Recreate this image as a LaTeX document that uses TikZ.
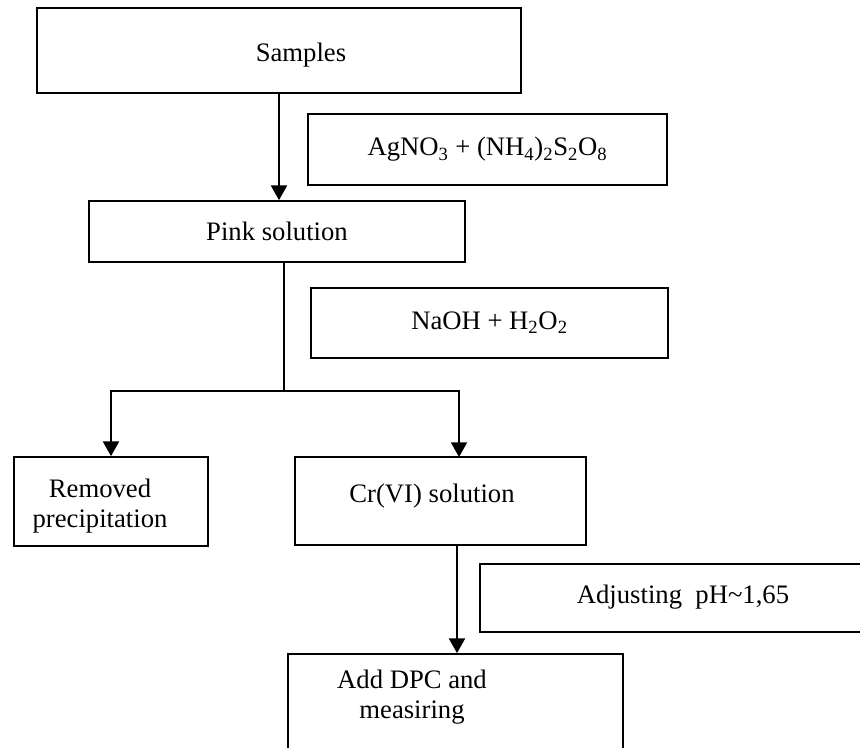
\documentclass[tikz,border=0pt]{standalone}
\usepackage{fontspec}
\setmainfont{Liberation Serif}
\usetikzlibrary{arrows.meta,positioning}
\tikzset{
    block/.style = {draw, rectangle, line width=1.3pt, inner sep=0pt},
    txt/.style = {align=center, inner sep=0pt},
    arrow/.style = {draw, line width=1.3pt, -{Triangle[width=12pt,length=11pt]}},
    wire/.style = {draw, line width=1.3pt}
}
\begin{document}
\begin{tikzpicture}[x=0.75pt, y=-0.75pt, font=\fontsize{20}{22.5}\selectfont]
        \useasboundingbox (0,0) rectangle (860,747);
        \clip (0,0) rectangle (860,747);
        \node [block, minimum width=363pt, minimum height=63.75pt] (samples) at (279,50.5) {};
        \node [txt] (samplestxt) at (301,55) {Samples};
        \node [block, minimum width=269.25pt, minimum height=53.25pt] (reag) at (487.5,149.5)
            {AgNO\textsubscript{3} + (NH\textsubscript{4})\textsubscript{2}S\textsubscript{2}O\textsubscript{8}};
        \node [block, minimum width=282pt, minimum height=45.75pt] (pink) at (277,231.5) {Pink solution};
        \node [block, minimum width=267.75pt, minimum height=52.5pt] (oxid) at (489.5,323)
            {NaOH + H\textsubscript{2}O\textsubscript{2}};
        \node [block, minimum width=145.5pt, minimum height=66.75pt] (removed) at (111,501.5) {};
        \node [txt] (removedtxt) at (100,506) {Removed\\precipitation};
        \node [block, minimum width=218.25pt, minimum height=66pt] (cr) at (440.5,501) {};
        \node [txt] (crtxt) at (432,496) {Cr(VI) solution};
        \node [block, minimum width=292.5pt, minimum height=51pt] (ph) at (675,598) {};
        \node [txt] (phtxt) at (683,597) {Adjusting\enspace pH\textasciitilde1,65};
        \node [block, minimum width=251.25pt, minimum height=87pt] (dpc) at (455.5,712) {};
        \node [txt] (dpctxt) at (412,697) {Add DPC and\\measiring};
        \coordinate (split) at (284,391);
        \coordinate (crin) at (459,457);
        \coordinate (crout) at (457,545);
        \draw [arrow] (samples.south) -- (samples.south |- pink.north);
        \draw [wire] (split |- pink.south) -- (split);
        \draw [arrow] (split) -| (removed.north);
        \draw [arrow] (split) -| (crin);
        \draw [arrow] (crout) -- (crout |- dpc.north);
\end{tikzpicture}
\end{document}
